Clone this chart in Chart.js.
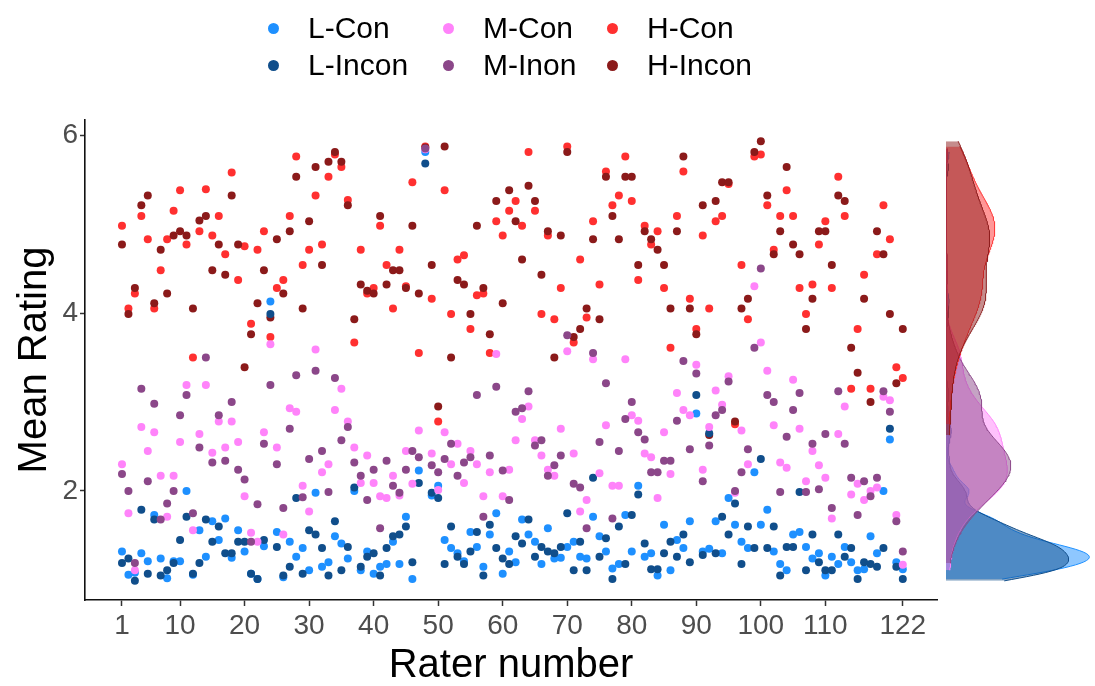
<!DOCTYPE html>
<html>
<head>
<meta charset="utf-8">
<script src="https://cdn.jsdelivr.net/npm/chart.js@4.4.1/dist/chart.umd.min.js"></script>
<style>
  body { margin: 0; background: #fff; font-family: "Liberation Sans", Arial, sans-serif; }
  #wrap { position: relative; width: 1095px; height: 686px; overflow: hidden; }
  #main { position: absolute; left: 0; top: 0; }
  #dens { position: absolute; left: 946px; top: 0; }
  .leg { position: absolute; font-size: 30px; line-height: 34px; color: #000; white-space: nowrap; }
  .dot { position: absolute; width: 11px; height: 11px; border-radius: 50%; }
</style>
</head>
<body>
<div id="wrap">
  <canvas id="main" width="1095" height="686"></canvas>
  <canvas id="dens" width="149" height="686"></canvas>
  <div id="legend"></div>
</div>
<script>
// rater ids 1..122
var raters = [];
for (var r = 1; r <= 122; r++) raters.push(r);

var xTicks = [1, 10, 20, 30, 40, 50, 60, 70, 80, 90, 100, 110, 122];
var yTicks = [2, 4, 6];

var names = ['L-Con', 'L-Incon', 'M-Con', 'M-Inon', 'H-Con', 'H-Incon'];
var colors = ['#1E90FF', '#104E8B', '#FF83FA', '#8B4789', '#FF3030', '#8B1A1A'];
var fills = ['rgba(30,144,255,0.5)', 'rgba(16,78,139,0.5)', 'rgba(255,131,250,0.5)',
             'rgba(139,71,137,0.5)', 'rgba(255,48,48,0.5)', 'rgba(139,26,26,0.5)'];

var lCon = [1.32,1.06,1.08,1.30,1.21,1.73,1.24,1.02,1.21,1.21, 2.00,1.06,1.56,1.26,1.66,1.45,1.69,1.25,1.56,1.32,
  1.07,1.01,1.38,4.13,1.54,1.03,1.43,1.26,1.36,1.11, 1.98,1.15,1.20,1.49,1.41,1.24,2.00,1.11,1.32,1.07,
  1.15,1.18,1.43,1.18,1.71,1.01,2.23,5.81,1.95,2.06, 1.45,1.36,1.30,1.21,1.54,1.37,1.15,1.51,1.75,1.07,
  1.32,1.20,1.68,1.51,1.43,1.18,1.58,1.24,1.25,1.37, 1.43,1.26,1.24,1.71,1.49,1.32,1.13,1.18,1.73,1.32,
  2.06,1.26,1.30,1.05,1.62,1.11,1.45,1.36,1.66,2.87, 1.32,1.35,1.66,1.30,1.92,1.62,1.43,1.36,2.21,1.62,
  1.79,1.32,1.18,1.11,1.51,1.54,1.37,1.24,1.30,1.05, 1.26,1.18,1.37,1.20,1.11,1.12,1.49,1.30,2.00,2.58,
  1.20,1.12];
var lIncon = [1.19,1.24,0.99,1.79,1.07,1.68,1.05,1.11,1.19,1.45, 1.71,1.07,1.19,1.68,1.43,1.60,1.30,1.30,1.43,1.43,
  1.07,1.01,1.45,3.99,1.37,1.05,1.15,1.92,1.07,1.56, 1.51,1.36,1.05,1.66,1.11,1.37,2.04,1.15,1.26,1.30,
  1.05,1.36,1.49,1.51,1.60,1.20,2.09,5.68,1.98,1.92, 1.18,1.60,1.26,1.18,1.32,1.54,1.05,1.62,1.36,1.24,
  1.18,1.49,1.41,1.68,1.26,1.37,1.32,1.30,1.37,1.75, 1.11,1.43,1.11,2.15,1.26,1.47,1.01,1.60,1.18,1.73,
  1.96,1.41,1.12,1.12,1.30,1.43,1.26,1.51,1.20,3.08, 1.28,2.65,1.30,1.71,1.51,1.86,1.18,1.60,1.36,2.36,
  1.36,1.60,1.05,1.37,1.37,1.99,1.11,1.51,1.20,1.11, 1.11,1.51,1.26,1.36,1.01,1.20,1.18,1.15,1.36,2.70,
  1.15,1.01];
var mCon = [2.30,1.75,1.11,2.72,2.45,2.66,2.17,1.71,2.17,2.55, 3.19,1.56,2.64,3.19,2.43,2.78,2.49,2.78,2.55,1.94,
  1.53,1.43,2.66,3.65,2.49,1.51,2.93,2.89,2.06,1.77, 3.59,2.21,2.30,2.91,3.15,2.78,2.49,2.09,2.40,2.09,
  1.94,1.92,2.17,1.95,2.45,2.08,2.68,5.84,2.42,2.01, 2.66,2.30,2.53,2.09,2.45,2.30,1.94,2.21,3.54,1.94,
  2.24,2.57,2.81,2.95,2.57,2.40,2.24,2.17,2.70,3.57, 2.42,1.77,1.90,3.48,2.20,2.74,2.06,2.06,3.48,2.85,
  2.79,2.42,2.38,1.92,2.66,2.19,3.10,2.91,2.85,3.42, 2.24,2.72,3.13,2.97,3.29,1.98,2.68,2.30,4.30,3.67,
  3.35,2.74,2.32,2.26,3.25,2.70,2.11,2.45,2.29,2.15, 1.69,2.64,2.95,1.96,2.08,1.90,2.00,2.04,3.06,3.02,
  1.73,1.17];
var mInon = [2.19,2.00,1.19,3.15,2.11,2.98,1.68,1.86,2.00,2.85, 3.08,1.75,2.49,3.50,2.32,2.85,2.34,3.00,2.24,2.13,
  1.43,1.85,2.53,3.19,2.30,1.81,2.70,3.30,1.93,2.36, 3.35,2.45,1.99,3.27,2.57,2.72,2.32,2.17,1.90,2.24,
  1.58,2.34,2.06,1.98,2.24,2.45,2.38,5.85,2.29,2.21, 2.36,2.53,2.17,2.32,2.38,3.08,1.71,2.40,3.17,2.23,
  1.90,2.89,2.93,3.12,2.51,2.57,2.17,2.29,2.40,3.75, 2.08,2.04,1.58,3.55,2.55,3.21,1.69,2.45,2.81,3.00,
  2.66,2.58,2.21,2.21,2.34,2.34,2.79,3.46,2.47,3.32, 2.11,2.51,2.85,2.91,3.23,2.00,2.21,2.47,3.61,4.50,
  3.08,3.00,1.99,2.61,2.91,3.10,1.99,2.53,2.02,2.64, 1.81,3.12,2.53,2.15,1.73,2.11,1.94,2.15,3.12,2.89,
  1.66,1.32];
var hCon = [4.98,4.05,4.22,5.09,4.83,4.05,4.48,4.83,5.15,5.38, 4.77,3.50,4.92,5.39,4.87,5.09,4.66,5.58,4.37,4.75,
  3.88,4.71,4.92,3.73,4.28,4.37,5.09,5.76,4.54,4.71, 5.32,4.77,5.53,5.78,5.64,5.27,3.67,4.71,4.22,4.28,
  4.98,4.54,4.05,4.71,4.30,5.47,3.55,5.87,4.16,2.78, 5.38,3.99,4.60,4.65,3.82,4.20,4.22,3.55,5.03,4.87,
  5.15,5.26,4.98,5.81,5.15,3.99,4.87,3.93,4.28,5.87, 3.67,4.60,3.95,5.03,4.32,5.59,5.21,5.32,5.76,5.26,
  4.37,4.98,4.77,4.92,4.28,3.61,5.09,5.59,4.16,3.82, 4.87,4.05,5.03,5.09,5.45,2.75,4.54,3.93,5.76,5.78,
  5.21,4.71,5.09,5.38,5.09,4.28,3.99,4.32,4.77,5.03, 4.28,5.53,5.09,3.15,3.82,4.43,3.15,4.66,5.21,4.83,
  3.39,3.27];
var hIncon = [4.77,3.99,4.28,5.21,5.32,4.11,4.71,4.22,4.87,4.92, 4.87,4.05,5.04,5.09,4.48,4.77,4.43,5.32,4.77,3.39,
  3.76,4.11,4.48,3.95,4.83,4.22,4.92,5.53,4.05,5.03, 5.64,4.54,5.70,5.81,5.70,5.21,3.93,4.32,4.25,4.22,
  5.09,4.32,4.48,4.48,4.28,4.98,4.22,5.86,4.54,2.95, 5.87,3.50,4.37,4.32,3.99,4.98,4.28,3.76,5.26,4.11,
  5.38,5.03,4.60,5.43,5.26,4.43,4.92,3.50,4.87,5.81, 3.73,3.82,4.05,4.83,3.93,5.53,5.09,4.83,5.53,5.53,
  4.54,4.92,4.83,4.71,4.54,4.05,4.92,5.76,4.05,3.76, 5.21,2.63,5.26,5.47,5.47,2.78,4.05,4.16,5.81,5.93,
  5.32,4.66,4.92,5.64,4.77,4.66,3.82,4.16,4.92,4.92, 4.54,5.32,5.26,3.61,3.33,4.16,3.00,4.92,4.66,3.99,
  3.21,3.82];

var series = [lCon, lIncon, mCon, mInon, hCon, hIncon];
// which layer each group sits on in the scatter (0 = bottom)
var layer = [2, 3, 4, 5, 0, 1];

Chart.defaults.font.family = '"Liberation Sans", Arial, sans-serif';

// legend, 3 columns x 2 rows
var legendCols = [273, 448, 612];
var legendRows = [28, 65];
var legendBox = document.getElementById('legend');
names.forEach(function(name, i) {
  var cx = legendCols[Math.floor(i / 2)], cy = legendRows[i % 2];
  var dot = document.createElement('div');
  dot.className = 'dot';
  dot.style.left = (cx - 5.5) + 'px';
  dot.style.top = (cy - 5.5) + 'px';
  dot.style.background = colors[i];
  legendBox.appendChild(dot);
  var txt = document.createElement('div');
  txt.className = 'leg';
  txt.style.left = (cx + 35) + 'px';
  txt.style.top = (cy - 17) + 'px';
  txt.textContent = name;
  legendBox.appendChild(txt);
});

new Chart(document.getElementById('main'), {
  type: 'scatter',
  data: {
    datasets: series.map(function(vals, i) {
      return {
        label: names[i],
        data: vals.map(function(v, k) { return { x: raters[k], y: v }; }),
        backgroundColor: colors[i],
        borderWidth: 0,
        pointRadius: 4,
        order: 10 - layer[i]
      };
    })
  },
  options: {
    responsive: false,
    animation: false,
    layout: { padding: { top: 120, right: 158, left: 0, bottom: 0 } },
    plugins: { legend: { display: false }, tooltip: { enabled: false } },
    scales: {
      x: {
        type: 'linear', min: -4.73, max: 127.3,
        afterFit: function(s) { s.height = 86; },
        afterBuildTicks: function(s) { s.ticks = xTicks.map(function(v) { return { value: v }; }); },
        ticks: { autoSkip: false, maxRotation: 0, color: '#4D4D4D', font: { size: 28 }, padding: 3,
                 callback: function(v) { return v; } },
        grid: { drawOnChartArea: false, tickLength: 6, tickWidth: 1.5, tickColor: '#333' },
        border: { color: '#111', width: 1.6 },
        title: { display: true, text: 'Rater number', color: '#000',
                 font: { size: 40, lineHeight: 1 }, padding: { top: 0, bottom: 0 } }
      },
      y: {
        type: 'linear', min: 0.775, max: 6.169,
        afterFit: function(s) { s.width = 85; },
        afterBuildTicks: function(s) { s.ticks = yTicks.map(function(v) { return { value: v }; }); },
        ticks: { color: '#4D4D4D', font: { size: 28 }, padding: 2, callback: function(v) { return v; } },
        grid: { drawOnChartArea: false, tickLength: 5, tickWidth: 1.5, tickColor: '#333' },
        border: { color: '#111', width: 1.6 },
        title: { display: true, text: 'Mean Rating', color: '#000',
                 font: { size: 40, lineHeight: 1 }, padding: { top: 15, bottom: 0 } }
      }
    }
  }
});

// marginal density (gaussian kernel, R's bw.nrd0)
function quantile(sorted, p) {
  var h = (sorted.length - 1) * p, lo = Math.floor(h);
  var hi = Math.min(lo + 1, sorted.length - 1);
  return sorted[lo] + (h - lo) * (sorted[hi] - sorted[lo]);
}
function density(values) {
  var n = values.length;
  var sorted = values.slice().sort(function(a, b) { return a - b; });
  var mean = values.reduce(function(a, b) { return a + b; }, 0) / n;
  var sd = Math.sqrt(values.reduce(function(a, v) { return a + (v - mean) * (v - mean); }, 0) / (n - 1));
  var iqr = quantile(sorted, 0.75) - quantile(sorted, 0.25);
  var bw = 0.9 * Math.min(sd, iqr / 1.34) * Math.pow(n, -0.2);
  var lo = sorted[0], hi = sorted[n - 1], pts = [];
  for (var k = 0; k <= 300; k++) {
    var y = lo + (hi - lo) * k / 300, d = 0;
    for (var j = 0; j < n; j++) { var z = (y - values[j]) / bw; d += Math.exp(-0.5 * z * z); }
    pts.push({ x: d / (n * bw * Math.sqrt(2 * Math.PI)), y: y });
  }
  return pts;
}

var densData = series.map(density);
var densMax = 0;
densData.forEach(function(pts) { pts.forEach(function(p) { if (p.x > densMax) densMax = p.x; }); });

new Chart(document.getElementById('dens'), {
  type: 'line',
  data: {
    datasets: densData.map(function(pts, i) {
      return {
        label: names[i], data: pts,
        borderColor: colors[i], backgroundColor: fills[i],
        borderWidth: 1, pointRadius: 0, fill: 'origin', order: 6 - i
      };
    })
  },
  options: {
    indexAxis: 'y',
    responsive: false,
    animation: false,
    layout: { padding: { top: 120, bottom: 86, left: 0, right: 0 } },
    plugins: { legend: { display: false }, tooltip: { enabled: false } },
    scales: {
      x: { type: 'linear', display: false, min: 0, max: densMax * 1.04 },
      y: { type: 'linear', display: false, min: 0.775, max: 6.169 }
    }
  }
});
</script>
</body>
</html>
